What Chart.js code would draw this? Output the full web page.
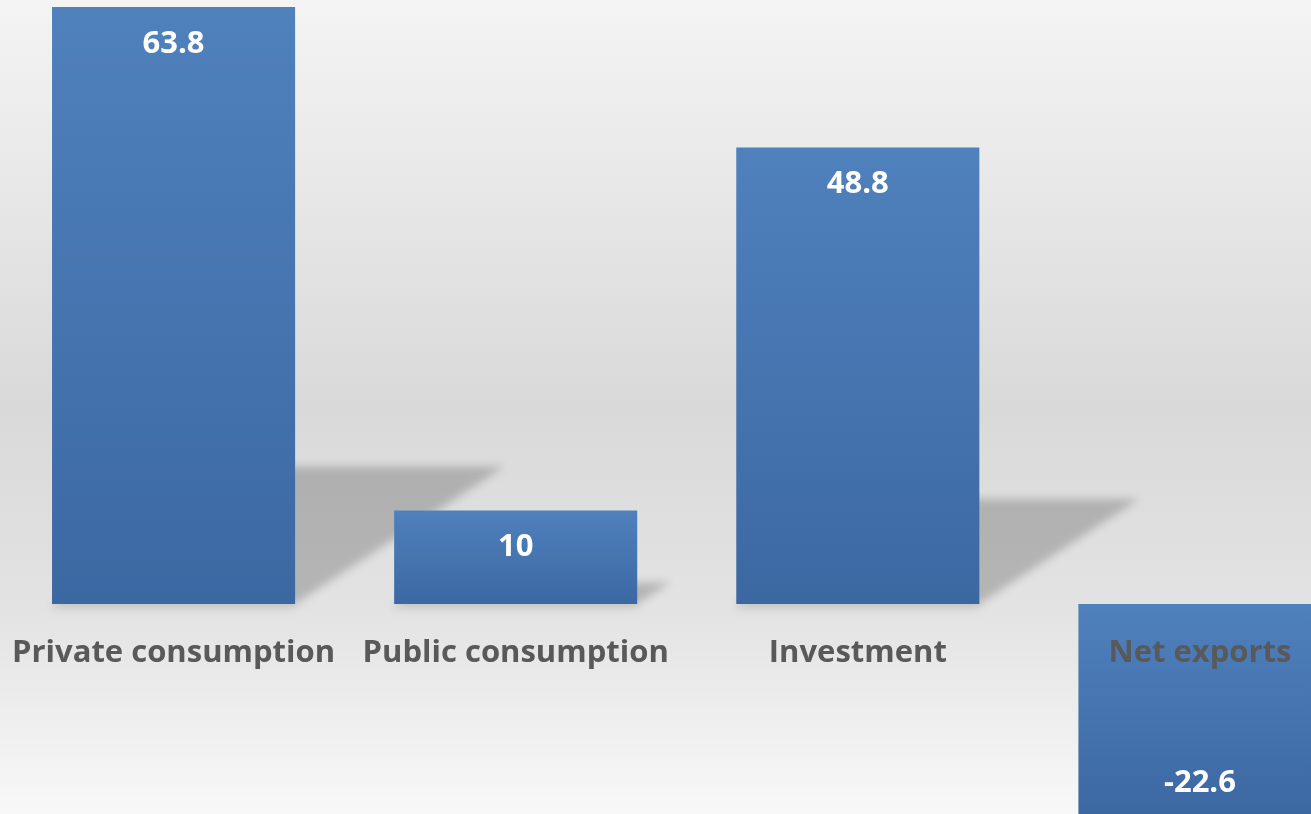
<!DOCTYPE html>
<html>
<head>
<meta charset="utf-8">
<script src="https://cdn.jsdelivr.net/npm/chart.js@4/dist/chart.umd.min.js"></script>
<style>
    html, body { margin: 0; padding: 0; overflow: hidden; background: #eeeeee; }
    #wrap { position: relative; width: 1371px; height: 814px; }
</style>
</head>
<body>
<div id="wrap"><canvas id="myChart"></canvas></div>
<script>
const categories = ['Private consumption', 'Public consumption', 'Investment', 'Net exports'];
const values = [63.8, 10, 48.8, -22.6];

const BAR_TOP_COLOR = '#4f81bd';
const BAR_BOTTOM_COLOR = '#3c68a2';
const LABEL_COLOR = '#595959';
const FONT_FAMILY = '"Open Sans", Lato, sans-serif';

// Light grey backdrop, darker in the middle band.
const backgroundPlugin = {
    id: 'background',
    beforeDraw(chart) {
        const ctx = chart.ctx;
        const g = ctx.createLinearGradient(0, 0, 0, chart.height);
        g.addColorStop(0, '#f4f4f4');
        g.addColorStop(0.5, '#d9d9d9');
        g.addColorStop(0.75, '#e3e3e3');
        g.addColorStop(1, '#f8f8f8');
        ctx.save();
        ctx.fillStyle = g;
        ctx.fillRect(0, 0, chart.width, chart.height);
        ctx.restore();
    }
};

// Perspective shadow behind the positive bars.
const shadowPlugin = {
    id: 'barShadow',
    beforeDatasetsDraw(chart) {
        const ctx = chart.ctx;
        const meta = chart.getDatasetMeta(0);
        ctx.save();
        ctx.filter = 'blur(4px)';
        meta.data.forEach((bar, i) => {
            if (values[i] <= 0) return;
            const h = bar.base - bar.y;
            const sh = 0.23 * h;
            const dx = 1.52 * sh;
            const l = bar.x - bar.width / 2;
            const r = bar.x + bar.width / 2;
            ctx.fillStyle = 'rgba(0,0,0,0.2)';
            ctx.beginPath();
            ctx.moveTo(l, bar.base);
            ctx.lineTo(r, bar.base);
            ctx.lineTo(r + dx, bar.base - sh);
            ctx.lineTo(l + dx, bar.base - sh);
            ctx.closePath();
            ctx.fill();
            // faint shadow right under the bar
            ctx.fillStyle = 'rgba(0,0,0,0.06)';
            ctx.fillRect(l, bar.base, bar.width, 6);
        });
        ctx.restore();
    }
};

// Value labels inside the bars.
const valueLabelPlugin = {
    id: 'valueLabels',
    afterDatasetsDraw(chart) {
        const ctx = chart.ctx;
        const meta = chart.getDatasetMeta(0);
        ctx.save();
        ctx.font = 'bold 31px ' + FONT_FAMILY;
        ctx.fillStyle = '#ffffff';
        ctx.textAlign = 'center';
        ctx.textBaseline = 'middle';
        meta.data.forEach((bar, i) => {
            const y = values[i] >= 0 ? bar.y + 37 : bar.y - 32;
            ctx.fillText(String(values[i]), bar.x, y);
        });
        ctx.restore();
    }
};

const data = {
    labels: categories,
    datasets: [{
        data: values,
        borderWidth: 0,
        categoryPercentage: 1,
        barPercentage: 0.7105,
        backgroundColor: (context) => {
            const chart = context.chart;
            const area = chart.chartArea;
            if (!area) return BAR_TOP_COLOR;
            const v = values[context.dataIndex];
            const yScale = chart.scales.y;
            const top = yScale.getPixelForValue(Math.max(v, 0));
            const bottom = yScale.getPixelForValue(Math.min(v, 0));
            const g = chart.ctx.createLinearGradient(0, top, 0, bottom);
            g.addColorStop(0, BAR_TOP_COLOR);
            g.addColorStop(1, BAR_BOTTOM_COLOR);
            return g;
        }
    }]
};

chart = new Chart(document.getElementById('myChart'), {
    type: 'bar',
    data: data,
    plugins: [backgroundPlugin, shadowPlugin, valueLabelPlugin],
    options: {
        responsive: true,
        maintainAspectRatio: false,
        animation: false,
        layout: {
            padding: { left: 2.5, right: 0, top: 0, bottom: 0 }
        },
        scales: {
            x: {
                position: { y: 0 },
                grid: { display: false },
                border: { display: false },
                // the labels should not squeeze the plot area
                afterFit: (scale) => {
                    scale.paddingLeft = 0;
                    scale.paddingRight = 0;
                },
                ticks: {
                    // drawn over the bars, as in the original
                    z: 1,
                    padding: 23,
                    autoSkip: false,
                    maxRotation: 0,
                    color: LABEL_COLOR,
                    font: { family: FONT_FAMILY, size: 31, weight: 'bold' }
                }
            },
            y: {
                display: false,
                min: -22.44,
                max: 64.55
            }
        },
        plugins: {
            legend: { display: false },
            tooltip: { enabled: false }
        }
    }
});
</script>
</body>
</html>
